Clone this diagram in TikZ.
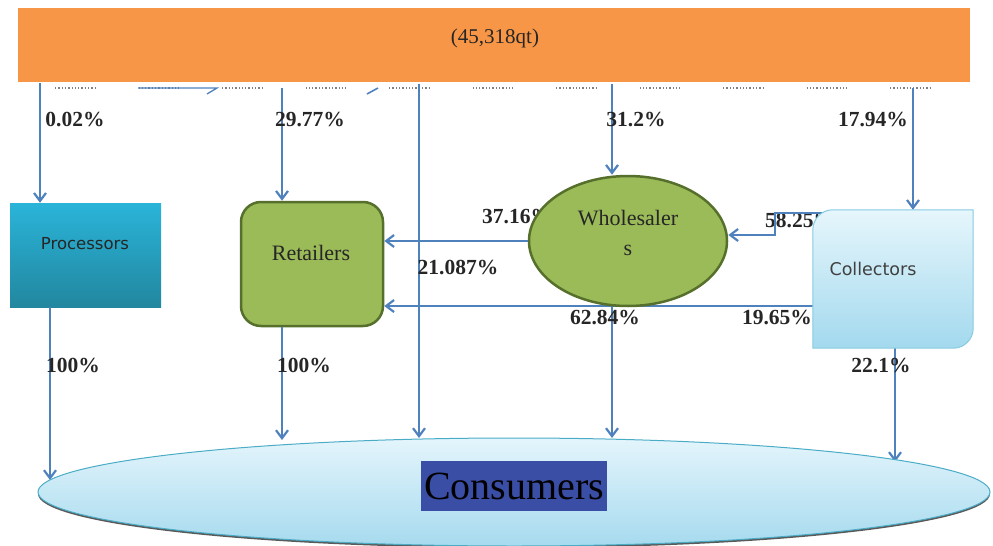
\documentclass[tikz,border=0pt]{standalone}
\usepackage{fontspec}
\setmainfont{Liberation Serif}
\newfontfamily\labsans{DejaVu Sans}
\usetikzlibrary{arrows.meta,shapes.geometric}
\definecolor{barorange}{HTML}{F79646}
\definecolor{flow}{HTML}{4F81BD}
\definecolor{olive}{HTML}{9BBB59}
\definecolor{olivedark}{HTML}{56702C}
\definecolor{proctop}{HTML}{2AB4D9}
\definecolor{procbot}{HTML}{22879F}
\definecolor{coltop}{HTML}{E6F6FC}
\definecolor{colbot}{HTML}{A3D9EE}
\definecolor{colborder}{HTML}{86CBE1}
\definecolor{constop}{HTML}{E4F5FC}
\definecolor{consbot}{HTML}{A6DAEE}
\definecolor{consborder}{HTML}{4BACC6}
\definecolor{consbox}{HTML}{3A4EA5}
\begin{document}
\begin{tikzpicture}[x=1pt,y=-1pt,
  flowline/.style={draw=flow,line width=2.4pt},
  flowarrow/.style={flowline,-{Straight Barb[length=8pt,width=12pt,line width=2.2pt]}},
  pct/.style={font=\bfseries\fontsize{21.5}{21.5}\selectfont,text=black!85,inner sep=0pt},
  boxtext/.style={inner sep=0pt,text=black!85}]
\useasboundingbox (0,0) rectangle (993,546);

% source bar
\node[fill=barorange,minimum width=952pt,minimum height=74pt,inner sep=0pt] (src) at (494,45) {};
\node[boxtext,font=\fontsize{21}{21}\selectfont] (srclab) at (495,38) {(45,318qt)};

% small marks under the bar
\foreach \i in {0,...,10}
  \draw[gray,dotted,line width=1.3pt] ({55+83.5*\i},88) -- ++(42,0);
\coordinate (sa1) at (138,88);
\coordinate (sa2) at (217,88);
\draw[flow,line width=1.3pt] (sa1) -- (sa2) -- ++(-10,6);
\coordinate (sb1) at (367,94);
\coordinate (sb2) at (378,88);
\draw[flow,line width=1.6pt] (sb1) -- (sb2);

% nodes
\node[rectangle,minimum width=151pt,minimum height=104pt,inner sep=0pt,top color=proctop,bottom color=procbot] (proc) at (85.5,255) {};
\node[boxtext,font=\labsans\fontsize{16.5}{16.5}\selectfont] (proclab) at (85,244) {Processors};

\node[rectangle,rounded corners=20pt,minimum width=142pt,minimum height=124pt,inner sep=0pt,fill=olive,draw=olivedark,line width=2.5pt] (ret) at (312,264) {};
\node[boxtext,font=\fontsize{22}{22}\selectfont] (retlab) at (311,253) {Retailers};

\node[rectangle,minimum width=160pt,minimum height=138pt,inner sep=0pt] (col) at (893,279) {};

% coordinates
\coordinate (c1) at (50,480);
\coordinate (c2) at (282,440);
\coordinate (c3) at (419,438);
\coordinate (c4) at (612,438);
\coordinate (c5) at (895,462);
\coordinate (s1) at (40,83);
\coordinate (s2) at (282,88);
\coordinate (s3) at (419,84);
\coordinate (s4) at (612,84);
\coordinate (s5) at (913,88);
\coordinate (c6) at (813,306);
\coordinate (e1) at (827,213);
\coordinate (e2) at (775,235);

% labels partly hidden
\node[pct,anchor=west] (l3716) at (482,217) {37.16\%};
\node[pct,anchor=west] (l5825) at (765,220) {58.25\%};

% connectors
\draw[flowarrow] (s1) -- (s1 |- proc.north);
\draw[flowarrow] (s2) -- (s2 |- ret.north);
\draw[flowarrow] (s3) -- (c3);
\draw[flowarrow] (s5) -- (s5 |- col.north);
\draw[flowarrow] (proc.south -| c1) -- (c1);
\draw[flowarrow] (ret.south -| c2) -- (c2);
\draw[flowarrow] (col.south -| c5) -- (c5);
\draw[flowarrow] (c6) -- (c6 -| ret.east);

\node[ellipse,minimum width=198pt,minimum height=130pt,inner sep=0pt,fill=olive,draw=olivedark,line width=2.5pt] (who) at (628,241) {};
\node[boxtext,font=\fontsize{22}{30}\selectfont,align=center] (wholab) at (628,233) {Wholesaler\\s};

\draw[flowarrow] (s4) -- (s4 |- who.north);
\draw[flowarrow] (who.south -| c4) -- (c4);
\draw[flowarrow] (who.west) -- (who.west -| ret.east);
\draw[flowarrow] (e1) -| (e2) -- (e2 -| who.east);

% collectors shape
\draw[draw=colborder,line width=1pt,top color=coltop,bottom color=colbot]
  (col.south west) -- ([yshift=-20pt]col.north west) arc[start angle=180,end angle=90,radius=20pt]
  -- (col.north east) -- ([yshift=20pt]col.south east) arc[start angle=0,end angle=-90,radius=20pt] -- cycle;
\node[boxtext,font=\labsans\fontsize{17.5}{17.5}\selectfont,text=black!75] (collab) at (873,269) {Collectors};

% consumers
\fill[black!65] (514,494) ellipse [x radius=476pt,y radius=54pt];
\node[ellipse,minimum width=952pt,minimum height=108pt,inner sep=0pt,top color=constop,bottom color=consbot,draw=consborder,line width=1pt] (cons) at (514,492) {};
\node[fill=consbox,minimum width=186pt,minimum height=50pt,inner sep=0pt,text=black,font=\fontsize{40}{40}\selectfont] (conslab) at (514,486) {Consumers};

% percentage labels
\node[pct] (l1) at (75,120) {0.02\%};
\node[pct] (l2) at (310,120) {29.77\%};
\node[pct] (l3) at (636,120) {31.2\%};
\node[pct] (l4) at (873,120) {17.94\%};
\node[pct] (l5) at (458,267) {21.087\%};
\node[pct] (l6) at (605,317) {62.84\%};
\node[pct] (l7) at (777,317) {19.65\%};
\node[pct] (l8) at (881,365) {22.1\%};
\node[pct] (l9) at (73,365) {100\%};
\node[pct] (l10) at (304,365) {100\%};
\end{tikzpicture}
\end{document}
